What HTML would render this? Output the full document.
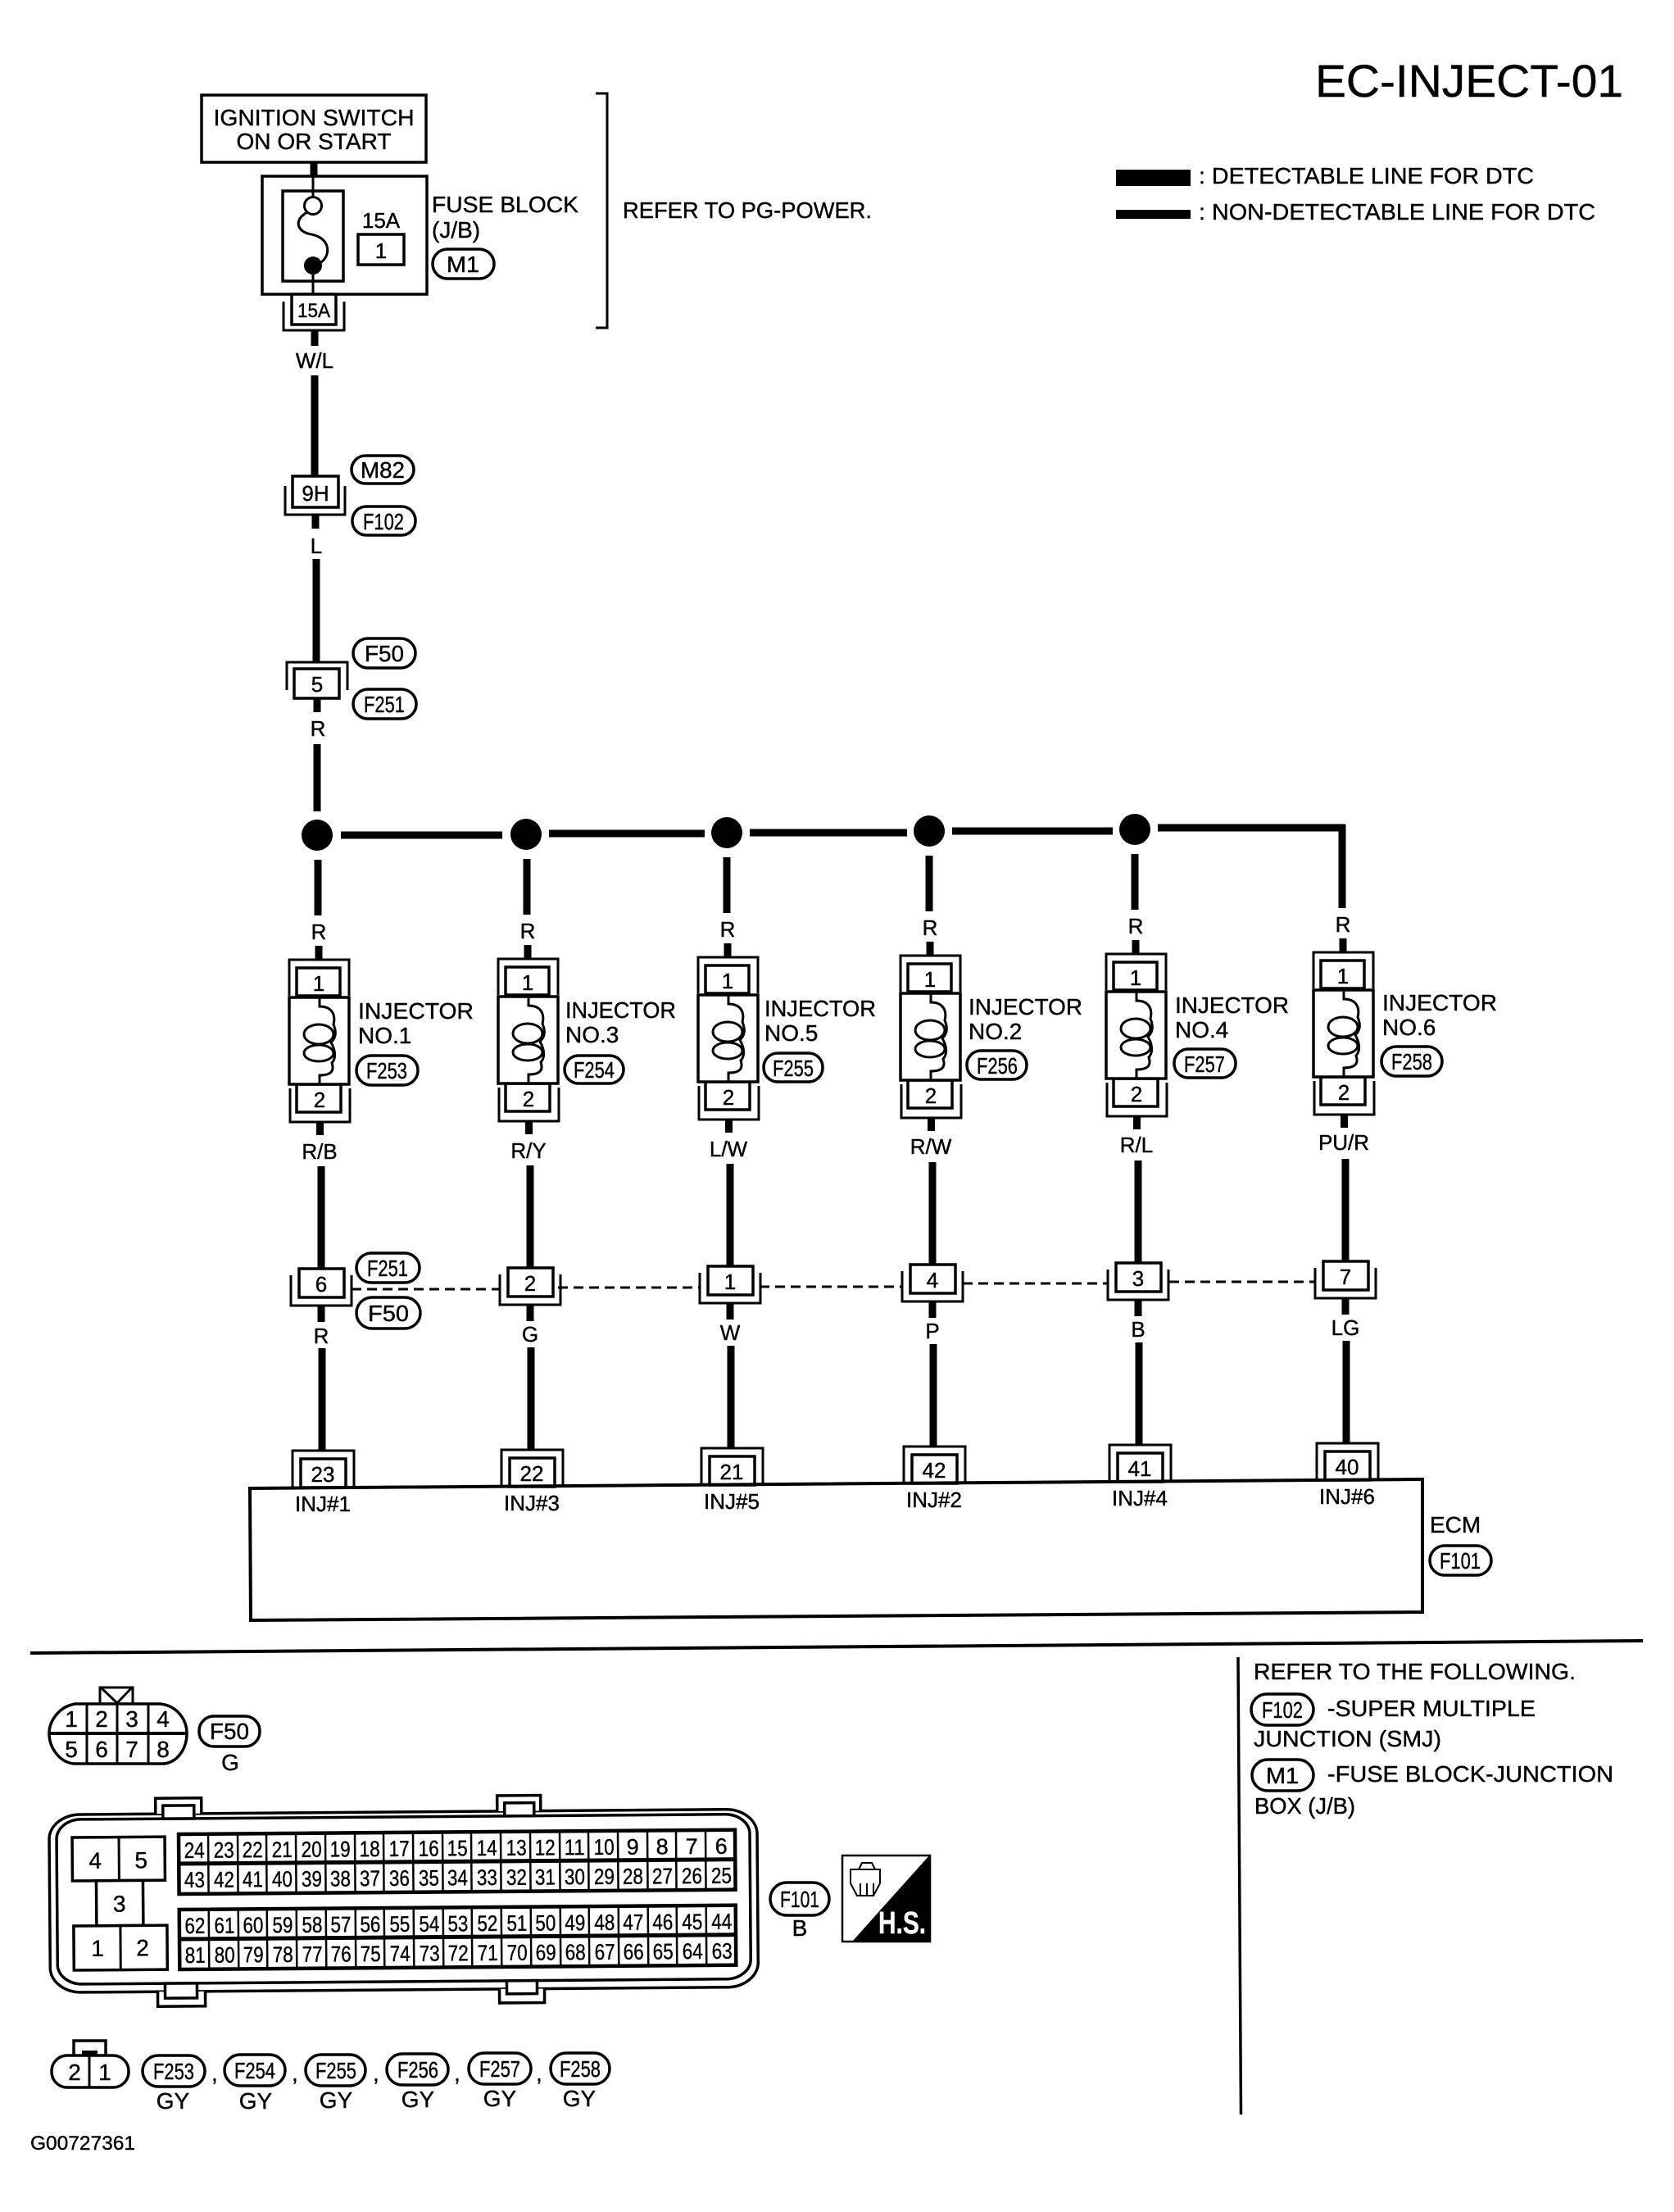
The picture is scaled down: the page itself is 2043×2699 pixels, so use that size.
<!DOCTYPE html>
<html><head><meta charset="utf-8"><title>EC-INJECT-01</title>
<style>
html,body{margin:0;padding:0;background:#fff}
svg{display:block}
text{font-family:"Liberation Sans",sans-serif;font-size:28px;fill:#000;stroke:#000;stroke-width:.4}
.m{text-anchor:middle}
.s{font-size:26px;text-anchor:middle}
.o{font-size:28px;text-anchor:middle}
.p{font-size:27px;text-anchor:middle}
.l{fill:none;stroke:#000;stroke-width:3}
.b{fill:#fff;stroke:#000;stroke-width:3.5}
.w{fill:none;stroke:#000;stroke-width:9}
.v{fill:#fff;stroke:#000;stroke-width:3.5}
.d{fill:none;stroke:#000;stroke-width:3;stroke-dasharray:12 7}
</style></head><body>
<svg xmlns="http://www.w3.org/2000/svg" width="2043" height="2699" viewBox="0 0 2043 2699">
<defs>
<g id="col">
<path class="w" d="M388,1049V1117M389,1154V1171M390.5,1369V1385M392,1423V1548M392,1593V1613M393,1645V1770"/>
<path class="l" d="M353,1215V1171H426V1215"/>
<rect class="b" x="362" y="1181" width="53" height="34"/>
<path class="l" d="M354,1328V1369H427V1328"/>
<rect class="b" x="362" y="1323" width="54" height="34"/>
<rect class="b" x="353" y="1217" width="73" height="106"/>
<path class="l" d="M390,1217V1228C405,1228 410,1238 407,1250C412,1262 408,1268 404,1272C410,1282 410,1292 405,1297C408,1306 405,1312 390,1312V1323"/>
<ellipse class="l" cx="389" cy="1262" rx="18" ry="12"/>
<ellipse class="l" cx="389" cy="1285" rx="18" ry="10"/>
<path class="l" d="M355,1556V1593H429V1556"/>
<rect class="b" x="365" y="1548" width="55" height="35"/>
<path class="l" d="M357,1814V1770H432V1814"/>
<rect class="b" x="367" y="1780" width="55" height="35"/>
</g>
</defs>
<rect width="2043" height="2699" fill="#fff"/>

<text x="1605" y="118" style="font-size:56px" textLength="376" lengthAdjust="spacingAndGlyphs">EC-INJECT-01</text>
<rect x="1362" y="207" width="91" height="20" fill="#000"/>
<rect x="1362" y="256" width="91" height="11" fill="#000"/>
<text x="1463" y="224" textLength="409" lengthAdjust="spacingAndGlyphs">: DETECTABLE LINE FOR DTC</text>
<text x="1463" y="268" textLength="484" lengthAdjust="spacingAndGlyphs">: NON-DETECTABLE LINE FOR DTC</text>

<!-- top feed -->
<rect class="b" x="246" y="116" width="274" height="82"/>
<text class="m" x="383" y="153" textLength="245" lengthAdjust="spacingAndGlyphs">IGNITION SWITCH</text>
<text class="m" x="383" y="182" textLength="189" lengthAdjust="spacingAndGlyphs">ON OR START</text>
<path class="w" d="M383,198V215"/>
<rect class="b" x="320" y="215" width="201" height="144"/>
<rect class="b" x="345" y="233" width="74" height="110"/>
<path class="l" d="M382,215V242M382,334V360M375,259C358,268 362,283 380,286C402,290 405,310 392,320"/>
<circle cx="382" cy="251" r="10.5" fill="#fff" stroke="#000" stroke-width="3"/>
<circle cx="382" cy="324" r="11" fill="#000"/>
<text class="m" x="465" y="278" style="font-size:26px">15A</text>
<rect class="b" x="437" y="286" width="56" height="37"/>
<text class="s" x="465" y="315">1</text>
<text x="527" y="259" textLength="179" lengthAdjust="spacingAndGlyphs">FUSE BLOCK</text>
<text x="527" y="290">(J/B)</text>
<rect class="v" x="528" y="304" width="75" height="36" rx="18"/>
<text class="o" x="565" y="332" textLength="40" lengthAdjust="spacingAndGlyphs">M1</text>
<path class="l" d="M727,114H741V400H727"/>
<text x="760" y="266" textLength="304" lengthAdjust="spacingAndGlyphs">REFER TO PG-POWER.</text>

<path class="l" d="M346,368V403H420V368"/>
<rect class="b" x="356" y="359" width="54" height="37"/>
<text class="m" x="383" y="387" style="font-size:24px" textLength="40" lengthAdjust="spacingAndGlyphs">15A</text>
<path class="w" d="M384,403V422M384,458V581"/>
<text class="s" x="384" y="449">W/L</text>

<path class="l" d="M348,593V628H421V593"/>
<rect class="b" x="357" y="581" width="56" height="38"/>
<text class="s" x="385" y="611">9H</text>
<rect class="v" x="429" y="556" width="76" height="34" rx="17"/>
<text class="o" x="467" y="583" textLength="54" lengthAdjust="spacingAndGlyphs">M82</text>
<rect class="v" x="430" y="618" width="77" height="35" rx="17"/>
<text class="o" x="468" y="646" textLength="50" lengthAdjust="spacingAndGlyphs">F102</text>
<path class="w" d="M385,628V645M386,682V809"/>
<text class="s" x="386" y="675">L</text>

<path class="l" d="M350,842V808H424V842"/>
<rect class="b" x="359" y="816" width="55" height="36"/>
<text class="s" x="387" y="844">5</text>
<rect class="v" x="431" y="779" width="76" height="36" rx="18"/>
<text class="o" x="469" y="807" textLength="48" lengthAdjust="spacingAndGlyphs">F50</text>
<rect class="v" x="431" y="841" width="77" height="36" rx="18"/>
<text class="o" x="469" y="869" textLength="50" lengthAdjust="spacingAndGlyphs">F251</text>
<path class="w" d="M387,852V869"/>
<text class="s" x="388" y="898">R</text>
<path class="w" d="M387,908V990"/>

<!-- bus -->
<path class="w" d="M416,1019H613M670,1017H860M915,1016H1107M1162,1014H1358"/>
<path class="w" d="M1413,1010H1638V1052"/>
<circle cx="387" cy="1019" r="19"/><circle cx="642" cy="1018" r="19"/><circle cx="887" cy="1016" r="19"/>
<circle cx="1134" cy="1014" r="19"/><circle cx="1385" cy="1012" r="19"/>

<!-- columns -->
<use href="#col"/>
<use href="#col" transform="translate(255,-1)"/>
<use href="#col" transform="translate(499,-3)"/>
<use href="#col" transform="translate(746,-5)"/>
<use href="#col" transform="translate(997,-7)"/>
<use href="#col" transform="translate(1250,-9)"/>

<!-- col texts -->
<text class="s" x="389" y="1146">R</text><text class="s" x="389" y="1209">1</text><text class="s" x="390" y="1351">2</text><text class="s" x="390" y="1414">R/B</text><text class="s" x="392" y="1576">6</text><text class="s" x="392" y="1639">R</text><text class="s" x="394" y="1808">23</text><text class="s" x="394" y="1844">INJ#1</text>
<text class="s" x="644" y="1145">R</text><text class="s" x="644" y="1208">1</text><text class="s" x="645" y="1350">2</text><text class="s" x="645" y="1413">R/Y</text><text class="s" x="647" y="1575">2</text><text class="s" x="647" y="1637">G</text><text class="s" x="649" y="1807">22</text><text class="s" x="649" y="1843">INJ#3</text>
<text class="s" x="888" y="1143">R</text><text class="s" x="888" y="1206">1</text><text class="s" x="889" y="1348">2</text><text class="s" x="889" y="1411">L/W</text><text class="s" x="891" y="1573">1</text><text class="s" x="891" y="1635">W</text><text class="s" x="893" y="1805">21</text><text class="s" x="893" y="1841">INJ#5</text>
<text class="s" x="1135" y="1141">R</text><text class="s" x="1135" y="1204">1</text><text class="s" x="1136" y="1346">2</text><text class="s" x="1136" y="1408">R/W</text><text class="s" x="1138" y="1571">4</text><text class="s" x="1138" y="1633">P</text><text class="s" x="1140" y="1803">42</text><text class="s" x="1140" y="1839">INJ#2</text>
<text class="s" x="1386" y="1139">R</text><text class="s" x="1386" y="1202">1</text><text class="s" x="1387" y="1344">2</text><text class="s" x="1387" y="1406">R/L</text><text class="s" x="1389" y="1569">3</text><text class="s" x="1389" y="1631">B</text><text class="s" x="1391" y="1801">41</text><text class="s" x="1391" y="1837">INJ#4</text>
<text class="s" x="1639" y="1137">R</text><text class="s" x="1639" y="1200">1</text><text class="s" x="1640" y="1342">2</text><text class="s" x="1640" y="1403">PU/R</text><text class="s" x="1642" y="1567">7</text><text class="s" x="1642" y="1629">LG</text><text class="s" x="1644" y="1799">40</text><text class="s" x="1644" y="1835">INJ#6</text>

<!-- injector labels -->
<text x="437" y="1243" textLength="141" lengthAdjust="spacingAndGlyphs">INJECTOR</text><text x="437" y="1273">NO.1</text>
<rect class="v" x="435" y="1288" width="75" height="36" rx="18"/><text class="o" x="472" y="1316" textLength="50" lengthAdjust="spacingAndGlyphs">F253</text>
<text x="690" y="1242" textLength="135" lengthAdjust="spacingAndGlyphs">INJECTOR</text><text x="690" y="1272">NO.3</text>
<rect class="v" x="689" y="1288" width="72" height="34" rx="17"/><text class="o" x="725" y="1315" textLength="50" lengthAdjust="spacingAndGlyphs">F254</text>
<text x="933" y="1240" textLength="136" lengthAdjust="spacingAndGlyphs">INJECTOR</text><text x="933" y="1270">NO.5</text>
<rect class="v" x="932" y="1285" width="72" height="35" rx="17"/><text class="o" x="968" y="1313" textLength="50" lengthAdjust="spacingAndGlyphs">F255</text>
<text x="1182" y="1238" textLength="139" lengthAdjust="spacingAndGlyphs">INJECTOR</text><text x="1182" y="1268">NO.2</text>
<rect class="v" x="1180" y="1282" width="73" height="35" rx="17"/><text class="o" x="1217" y="1310" textLength="50" lengthAdjust="spacingAndGlyphs">F256</text>
<text x="1434" y="1236" textLength="139" lengthAdjust="spacingAndGlyphs">INJECTOR</text><text x="1434" y="1266">NO.4</text>
<rect class="v" x="1433" y="1280" width="75" height="35" rx="17"/><text class="o" x="1470" y="1308" textLength="50" lengthAdjust="spacingAndGlyphs">F257</text>
<text x="1687" y="1233" textLength="140" lengthAdjust="spacingAndGlyphs">INJECTOR</text><text x="1687" y="1263">NO.6</text>
<rect class="v" x="1686" y="1277" width="74" height="36" rx="18"/><text class="o" x="1723" y="1305" textLength="50" lengthAdjust="spacingAndGlyphs">F258</text>

<!-- dashed -->
<path class="d" d="M429,1573H609M681,1571H854M927,1570H1100M1175,1566H1351M1427,1564H1605"/>
<rect class="v" x="435" y="1529" width="77" height="36" rx="18"/><text class="o" x="473" y="1557" textLength="50" lengthAdjust="spacingAndGlyphs">F251</text>
<rect class="v" x="435" y="1583" width="78" height="38" rx="19"/><text class="o" x="474" y="1612" textLength="50" lengthAdjust="spacingAndGlyphs">F50</text>

<!-- ECM -->
<path d="M305,1816L1736,1805V1967L306,1977Z" fill="none" stroke="#000" stroke-width="4"/>
<text x="1745" y="1870">ECM</text>
<rect class="v" x="1745" y="1886" width="75" height="36" rx="18"/><text class="o" x="1782" y="1914" textLength="50" lengthAdjust="spacingAndGlyphs">F101</text>

<!-- dividers -->
<path d="M37,2017L2005,2002" stroke="#000" stroke-width="4" fill="none"/>
<path d="M1511,2022L1514.5,2580" stroke="#000" stroke-width="3.5" fill="none"/>

<!-- refer text -->
<text x="1530" y="2049" textLength="393" lengthAdjust="spacingAndGlyphs">REFER TO THE FOLLOWING.</text>
<rect class="v" x="1527" y="2067" width="76" height="38" rx="19"/><text class="o" x="1565" y="2096" textLength="50" lengthAdjust="spacingAndGlyphs">F102</text>
<text x="1620" y="2094" textLength="254" lengthAdjust="spacingAndGlyphs">-SUPER MULTIPLE</text>
<text x="1530" y="2131" textLength="229" lengthAdjust="spacingAndGlyphs">JUNCTION (SMJ)</text>
<rect class="v" x="1528" y="2147" width="75" height="38" rx="19"/><text class="o" x="1565" y="2176" textLength="40" lengthAdjust="spacingAndGlyphs">M1</text>
<text x="1620" y="2174" textLength="349" lengthAdjust="spacingAndGlyphs">-FUSE BLOCK-JUNCTION</text>
<text x="1531" y="2213" textLength="123" lengthAdjust="spacingAndGlyphs">BOX (J/B)</text>

<!-- F50 connector -->
<path class="l" d="M122,2079V2059H162V2079M124,2060L143,2078L160,2060"/>
<path class="b" d="M92,2079H196C218,2082 228,2100 228,2115C228,2132 218,2150 200,2152H90C72,2150 60,2132 60,2115C60,2100 72,2082 92,2079Z"/>
<path class="l" d="M106,2080V2151M143,2080V2151M181,2080V2151"/>
<path d="M60,2115H228" stroke="#000" stroke-width="4"/>
<text class="m" x="87" y="2107">1</text><text class="m" x="124" y="2107">2</text><text class="m" x="161" y="2107">3</text><text class="m" x="199" y="2107">4</text>
<text class="m" x="87" y="2144">5</text><text class="m" x="124" y="2144">6</text><text class="m" x="161" y="2144">7</text><text class="m" x="199" y="2144">8</text>
<rect class="v" x="243" y="2094" width="74" height="37" rx="18"/><text class="o" x="280" y="2122" textLength="48" lengthAdjust="spacingAndGlyphs">F50</text>
<text class="m" x="281" y="2160">G</text>

<!-- ECM connector -->
<g transform="rotate(-0.45 218 2238)">
<rect class="b" x="60" y="2213" width="864" height="217" rx="38" ry="30"/>
<path class="b" d="M190,2213V2194H246V2213"/>
<path class="b" d="M607,2213V2194H660V2213"/>
<path class="b" d="M191,2430V2448H249V2430"/>
<path class="b" d="M608,2430V2447H663V2430"/>
<rect class="b" x="69" y="2219" width="846" height="201" rx="30" ry="24"/>
<rect class="b" x="199" y="2203" width="38" height="16"/>
<rect class="b" x="616" y="2203" width="36" height="16"/>
<rect class="b" x="200" y="2420" width="39" height="18"/>
<rect class="b" x="617" y="2420" width="37" height="16"/>

<rect class="b" x="88" y="2241" width="113" height="53"/><path class="l" d="M145,2241V2294"/>
<rect class="b" x="117" y="2294" width="57" height="55"/>
<rect class="b" x="89" y="2349" width="114" height="54"/><path class="l" d="M146,2349V2403"/>
<text class="m" x="116" y="2279">4</text><text class="m" x="172" y="2279">5</text><text class="m" x="145" y="2332">3</text><text class="m" x="118" y="2386">1</text><text class="m" x="173" y="2386">2</text>

<rect x="218" y="2238" width="679" height="73" fill="#fff" stroke="#000" stroke-width="4.5"/>
<rect x="218" y="2330" width="679" height="73" fill="#fff" stroke="#000" stroke-width="4.5"/>
<path d="M218,2274H897M218,2366H897" stroke="#000" stroke-width="5" fill="none"/>
<path stroke="#000" stroke-width="2.5" fill="none" d="M254,2238V2311M290,2238V2311M325,2238V2311M361,2238V2311M397,2238V2311M433,2238V2311M468,2238V2311M504,2238V2311M540,2238V2311M575,2238V2311M611,2238V2311M647,2238V2311M683,2238V2311M718,2238V2311M754,2238V2311M790,2238V2311M825,2238V2311M861,2238V2311M254,2330V2403M290,2330V2403M325,2330V2403M361,2330V2403M397,2330V2403M433,2330V2403M468,2330V2403M504,2330V2403M540,2330V2403M575,2330V2403M611,2330V2403M647,2330V2403M683,2330V2403M718,2330V2403M754,2330V2403M790,2330V2403M825,2330V2403M861,2330V2403"/>

<text class="p" x="237" y="2267" textLength="25" lengthAdjust="spacingAndGlyphs">24</text><text class="p" x="273" y="2267" textLength="25" lengthAdjust="spacingAndGlyphs">23</text><text class="p" x="308" y="2267" textLength="25" lengthAdjust="spacingAndGlyphs">22</text><text class="p" x="344" y="2267" textLength="25" lengthAdjust="spacingAndGlyphs">21</text><text class="p" x="380" y="2267" textLength="25" lengthAdjust="spacingAndGlyphs">20</text><text class="p" x="415" y="2267" textLength="25" lengthAdjust="spacingAndGlyphs">19</text><text class="p" x="451" y="2267" textLength="25" lengthAdjust="spacingAndGlyphs">18</text><text class="p" x="487" y="2267" textLength="25" lengthAdjust="spacingAndGlyphs">17</text><text class="p" x="523" y="2267" textLength="25" lengthAdjust="spacingAndGlyphs">16</text><text class="p" x="558" y="2267" textLength="25" lengthAdjust="spacingAndGlyphs">15</text><text class="p" x="594" y="2267" textLength="25" lengthAdjust="spacingAndGlyphs">14</text><text class="p" x="630" y="2267" textLength="25" lengthAdjust="spacingAndGlyphs">13</text><text class="p" x="665" y="2267" textLength="25" lengthAdjust="spacingAndGlyphs">12</text><text class="p" x="701" y="2267" textLength="25" lengthAdjust="spacingAndGlyphs">11</text><text class="p" x="737" y="2267" textLength="25" lengthAdjust="spacingAndGlyphs">10</text><text class="p" x="772" y="2267">9</text><text class="p" x="808" y="2267">8</text><text class="p" x="844" y="2267">7</text><text class="p" x="880" y="2267">6</text>

<text class="p" x="237" y="2303" textLength="25" lengthAdjust="spacingAndGlyphs">43</text><text class="p" x="273" y="2303" textLength="25" lengthAdjust="spacingAndGlyphs">42</text><text class="p" x="308" y="2303" textLength="25" lengthAdjust="spacingAndGlyphs">41</text><text class="p" x="344" y="2303" textLength="25" lengthAdjust="spacingAndGlyphs">40</text><text class="p" x="380" y="2303" textLength="25" lengthAdjust="spacingAndGlyphs">39</text><text class="p" x="415" y="2303" textLength="25" lengthAdjust="spacingAndGlyphs">38</text><text class="p" x="451" y="2303" textLength="25" lengthAdjust="spacingAndGlyphs">37</text><text class="p" x="487" y="2303" textLength="25" lengthAdjust="spacingAndGlyphs">36</text><text class="p" x="523" y="2303" textLength="25" lengthAdjust="spacingAndGlyphs">35</text><text class="p" x="558" y="2303" textLength="25" lengthAdjust="spacingAndGlyphs">34</text><text class="p" x="594" y="2303" textLength="25" lengthAdjust="spacingAndGlyphs">33</text><text class="p" x="630" y="2303" textLength="25" lengthAdjust="spacingAndGlyphs">32</text><text class="p" x="665" y="2303" textLength="25" lengthAdjust="spacingAndGlyphs">31</text><text class="p" x="701" y="2303" textLength="25" lengthAdjust="spacingAndGlyphs">30</text><text class="p" x="737" y="2303" textLength="25" lengthAdjust="spacingAndGlyphs">29</text><text class="p" x="772" y="2303" textLength="25" lengthAdjust="spacingAndGlyphs">28</text><text class="p" x="808" y="2303" textLength="25" lengthAdjust="spacingAndGlyphs">27</text><text class="p" x="844" y="2303" textLength="25" lengthAdjust="spacingAndGlyphs">26</text><text class="p" x="880" y="2303" textLength="25" lengthAdjust="spacingAndGlyphs">25</text>

<text class="p" x="237" y="2359" textLength="25" lengthAdjust="spacingAndGlyphs">62</text><text class="p" x="273" y="2359" textLength="25" lengthAdjust="spacingAndGlyphs">61</text><text class="p" x="308" y="2359" textLength="25" lengthAdjust="spacingAndGlyphs">60</text><text class="p" x="344" y="2359" textLength="25" lengthAdjust="spacingAndGlyphs">59</text><text class="p" x="380" y="2359" textLength="25" lengthAdjust="spacingAndGlyphs">58</text><text class="p" x="415" y="2359" textLength="25" lengthAdjust="spacingAndGlyphs">57</text><text class="p" x="451" y="2359" textLength="25" lengthAdjust="spacingAndGlyphs">56</text><text class="p" x="487" y="2359" textLength="25" lengthAdjust="spacingAndGlyphs">55</text><text class="p" x="523" y="2359" textLength="25" lengthAdjust="spacingAndGlyphs">54</text><text class="p" x="558" y="2359" textLength="25" lengthAdjust="spacingAndGlyphs">53</text><text class="p" x="594" y="2359" textLength="25" lengthAdjust="spacingAndGlyphs">52</text><text class="p" x="630" y="2359" textLength="25" lengthAdjust="spacingAndGlyphs">51</text><text class="p" x="665" y="2359" textLength="25" lengthAdjust="spacingAndGlyphs">50</text><text class="p" x="701" y="2359" textLength="25" lengthAdjust="spacingAndGlyphs">49</text><text class="p" x="737" y="2359" textLength="25" lengthAdjust="spacingAndGlyphs">48</text><text class="p" x="772" y="2359" textLength="25" lengthAdjust="spacingAndGlyphs">47</text><text class="p" x="808" y="2359" textLength="25" lengthAdjust="spacingAndGlyphs">46</text><text class="p" x="844" y="2359" textLength="25" lengthAdjust="spacingAndGlyphs">45</text><text class="p" x="880" y="2359" textLength="25" lengthAdjust="spacingAndGlyphs">44</text>

<text class="p" x="237" y="2395" textLength="25" lengthAdjust="spacingAndGlyphs">81</text><text class="p" x="273" y="2395" textLength="25" lengthAdjust="spacingAndGlyphs">80</text><text class="p" x="308" y="2395" textLength="25" lengthAdjust="spacingAndGlyphs">79</text><text class="p" x="344" y="2395" textLength="25" lengthAdjust="spacingAndGlyphs">78</text><text class="p" x="380" y="2395" textLength="25" lengthAdjust="spacingAndGlyphs">77</text><text class="p" x="415" y="2395" textLength="25" lengthAdjust="spacingAndGlyphs">76</text><text class="p" x="451" y="2395" textLength="25" lengthAdjust="spacingAndGlyphs">75</text><text class="p" x="487" y="2395" textLength="25" lengthAdjust="spacingAndGlyphs">74</text><text class="p" x="523" y="2395" textLength="25" lengthAdjust="spacingAndGlyphs">73</text><text class="p" x="558" y="2395" textLength="25" lengthAdjust="spacingAndGlyphs">72</text><text class="p" x="594" y="2395" textLength="25" lengthAdjust="spacingAndGlyphs">71</text><text class="p" x="630" y="2395" textLength="25" lengthAdjust="spacingAndGlyphs">70</text><text class="p" x="665" y="2395" textLength="25" lengthAdjust="spacingAndGlyphs">69</text><text class="p" x="701" y="2395" textLength="25" lengthAdjust="spacingAndGlyphs">68</text><text class="p" x="737" y="2395" textLength="25" lengthAdjust="spacingAndGlyphs">67</text><text class="p" x="772" y="2395" textLength="25" lengthAdjust="spacingAndGlyphs">66</text><text class="p" x="808" y="2395" textLength="25" lengthAdjust="spacingAndGlyphs">65</text><text class="p" x="844" y="2395" textLength="25" lengthAdjust="spacingAndGlyphs">64</text><text class="p" x="880" y="2395" textLength="25" lengthAdjust="spacingAndGlyphs">63</text>
</g>

<rect class="v" x="940" y="2297" width="72" height="40" rx="20"/><text class="o" x="976" y="2327" textLength="48" lengthAdjust="spacingAndGlyphs">F101</text>
<text class="m" x="976" y="2362">B</text>

<!-- H.S. icon -->
<rect x="1028" y="2264" width="107" height="105" fill="#fff" stroke="#000" stroke-width="2.5"/>
<path d="M1135,2263V2369H1040Z" fill="#000"/>
<path d="M1038,2281H1074V2298L1066,2313H1046L1038,2298ZM1048,2281L1052,2273H1064L1068,2281M1050,2298V2312M1058,2298V2312M1066,2298V2312" fill="none" stroke="#000" stroke-width="2"/>
<text x="1072" y="2359" style="font-size:38px;font-weight:bold;fill:#fff;stroke:#fff" textLength="58" lengthAdjust="spacingAndGlyphs">H.S.</text>

<!-- 2-pin connector -->
<rect x="90" y="2490" width="39" height="20" fill="#fff" stroke="#000" stroke-width="3.5"/>
<rect x="100" y="2502" width="19" height="8" fill="#000"/>
<rect class="b" x="63" y="2508" width="94" height="39" rx="19"/>
<path class="l" d="M109,2508V2547"/>
<text class="m" x="91" y="2538">2</text><text class="m" x="128" y="2538">1</text>

<rect class="v" x="174" y="2508" width="76" height="38" rx="19"/><text class="o" x="212" y="2537" textLength="50" lengthAdjust="spacingAndGlyphs">F253</text>
<rect class="v" x="274" y="2507" width="74" height="38" rx="19"/><text class="o" x="311" y="2536" textLength="50" lengthAdjust="spacingAndGlyphs">F254</text>
<rect class="v" x="373" y="2507" width="73" height="38" rx="19"/><text class="o" x="410" y="2536" textLength="50" lengthAdjust="spacingAndGlyphs">F255</text>
<rect class="v" x="472" y="2506" width="75" height="38" rx="19"/><text class="o" x="510" y="2535" textLength="50" lengthAdjust="spacingAndGlyphs">F256</text>
<rect class="v" x="572" y="2505" width="76" height="38" rx="19"/><text class="o" x="610" y="2534" textLength="50" lengthAdjust="spacingAndGlyphs">F257</text>
<rect class="v" x="672" y="2505" width="72" height="38" rx="19"/><text class="o" x="708" y="2534" textLength="50" lengthAdjust="spacingAndGlyphs">F258</text>
<text x="258" y="2539">,</text><text x="356" y="2539">,</text><text x="455" y="2539">,</text><text x="554" y="2539">,</text><text x="654" y="2539">,</text>
<text class="m" x="211" y="2573">GY</text><text class="m" x="312" y="2573">GY</text><text class="m" x="410" y="2572">GY</text><text class="m" x="510" y="2571">GY</text><text class="m" x="610" y="2570">GY</text><text class="m" x="707" y="2570">GY</text>

<text x="37" y="2623" style="font-size:24px" textLength="128" lengthAdjust="spacingAndGlyphs">G00727361</text>
</svg>
</body></html>
